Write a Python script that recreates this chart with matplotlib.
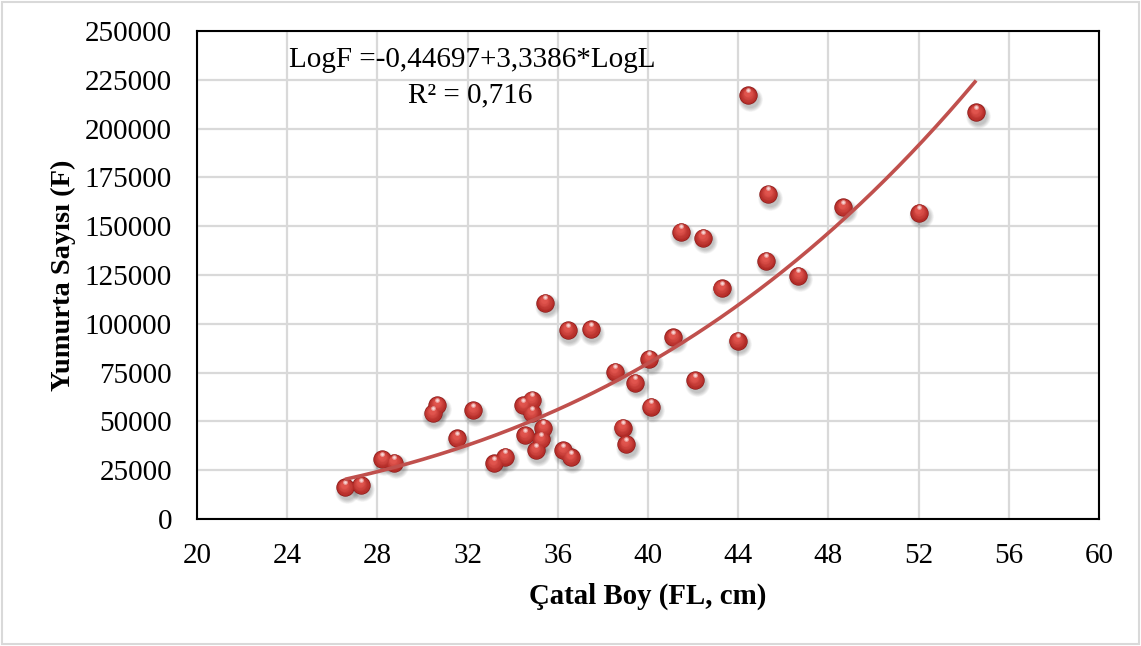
import numpy as np
import matplotlib
matplotlib.use("Agg")
import matplotlib.pyplot as plt
from matplotlib.transforms import offset_copy
from matplotlib.patches import Rectangle
from matplotlib.colors import to_rgb

# Fork length (cm) and fecundity (egg count)
fork_length = [26.56, 27.26, 28.22, 28.74, 30.45, 30.66, 31.52, 32.25, 33.17, 33.66,
               34.47, 34.84, 34.84, 35.36, 34.55, 35.25, 35.03, 36.24, 36.57, 35.43,
               36.44, 37.46, 38.54, 40.06, 39.42, 41.12, 42.08, 40.12, 38.87, 39.03,
               41.45, 42.45, 45.23, 46.67, 43.26, 43.97, 48.66, 44.45, 54.55, 45.34,
               52.03]
egg_count = [16200, 17400, 30700, 28800, 54100, 58400, 41300, 55800, 28500, 31900,
             58400, 61000, 54100, 46800, 43000, 40800, 35300, 35300, 31600, 110800,
             96800, 97200, 75500, 82000, 69800, 93100, 71200, 57500, 46800, 38400,
             147200, 144100, 132300, 124600, 118200, 91300, 159700, 217000, 208300, 166500,
             156900]

# Power fit: log F = a + b log L
fit_a = -0.44697
fit_b = 3.3386
equation_text = "LogF =-0,44697+3,3386*LogL"
r2_text = "R² = 0,716"

x_ticks = [20, 24, 28, 32, 36, 40, 44, 48, 52, 56, 60]
y_ticks = [0, 25000, 50000, 75000, 100000, 125000, 150000, 175000, 200000, 225000, 250000]

plt.rcParams['font.family'] = ['Liberation Serif', 'DejaVu Serif']

fig = plt.figure(figsize=(11.41, 6.46), dpi=100)
ax = fig.add_axes([0.1727, 0.1966, 0.9632 - 0.1727, 0.952 - 0.1966])

ax.set_xlim(20, 60)
ax.set_ylim(0, 250000)
ax.set_xticks(x_ticks)
ax.set_yticks(y_ticks)
ax.set_xticklabels([str(t) for t in x_ticks])
ax.set_yticklabels([str(t) for t in y_ticks])
ax.tick_params(axis='both', length=0, labelsize=21, pad=18)
ax.tick_params(axis='x', pad=17)
ax.grid(True, color='#D9D9D9', linewidth=1.6)
ax.set_axisbelow(True)
for sp in ax.spines.values():
    sp.set_color('black')
    sp.set_linewidth(1.5)

ax.set_xlabel("Çatal Boy (FL, cm)", fontsize=20.8, fontweight='bold', labelpad=10)
ax.set_ylabel("Yumurta Sayısı (F)", fontsize=20.5, fontweight='bold', labelpad=6)

x = np.array(fork_length)
y = np.array(egg_count)

# Shaded spheres: soft drop shadow, dark base, brighter layers toward the top
d = 13.2
for k in range(7):
    tr = offset_copy(ax.transData, fig=fig, x=1.2, y=-2.6, units='points')
    ax.scatter(x, y, s=(d * (1.35 - 0.07 * k)) ** 2, color='black', alpha=0.035,
               linewidths=0, transform=tr, zorder=3)

ax.scatter(x, y, s=d ** 2, color='#861818', linewidths=0, zorder=4)
c0 = np.array(to_rgb('#B02A26'))
c1 = np.array(to_rgb('#E0544D'))
n = 10
for i in range(n):
    f = i / (n - 1)
    size = d * (0.94 - 0.58 * f)
    tr = offset_copy(ax.transData, fig=fig, x=-0.05 * d * f, y=d * 0.15 * f, units='points')
    col = c0 * (1 - f) + c1 * f
    ax.scatter(x, y, s=size ** 2, color=col, linewidths=0, transform=tr, zorder=5)
tr = offset_copy(ax.transData, fig=fig, x=0, y=d * 0.3, units='points')
ax.scatter(x, y, s=(d * 0.26) ** 2, color='white', alpha=0.45, linewidths=0,
           transform=tr, zorder=6)
ax.scatter(x, y, s=(d * 0.14) ** 2, color='white', alpha=0.6, linewidths=0,
           transform=tr, zorder=6)

# Fitted curve
xf = np.linspace(x.min(), x.max(), 300)
yf = 10 ** fit_a * xf ** fit_b
ax.plot(xf, yf, color='#C0504D', linewidth=2.6, zorder=7, solid_capstyle='butt')

ax.text(0.305, 0.9406, equation_text, transform=ax.transAxes, fontsize=21,
        ha='center', va='center', zorder=8)
ax.text(0.303, 0.8689, r2_text, transform=ax.transAxes, fontsize=21,
        ha='center', va='center', zorder=8)

# Light chart-area border
fig.patches.append(Rectangle((0.002, 0.003), 0.996, 0.994, transform=fig.transFigure,
                             fill=False, edgecolor='#D9D9D9', linewidth=1.5))

fig.savefig("out.png", dpi=100)
